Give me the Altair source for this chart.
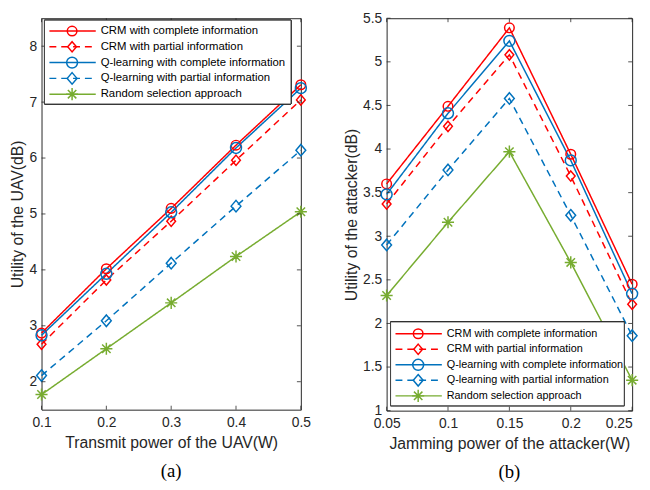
import altair as alt
import pandas as pd

# ---------------- data ----------------
series = ["CRM with complete information", "CRM with partial information",
          "Q-learning with complete information", "Q-learning with partial information",
          "Random selection approach"]
colors = ["#FF0000", "#FF0000", "#0072BD", "#0072BD", "#77AC30"]
dashes = [[1, 0], [7, 5], [1, 0], [7, 5], [1, 0]]
diamond = "M0,-1L0.85,0L0,1L-0.85,0Z"
asterisk = "M0,-1L0,1M-1,0L1,0M-0.7,-0.7L0.7,0.7M-0.7,0.7L0.7,-0.7"
shapes = ["circle", diamond, "circle", diamond, asterisk]
sizes = [95, 150, 95, 150, 95]

power_a = [0.1, 0.2, 0.3, 0.4, 0.5]
a_crm_full = [2.87, 4.02, 5.10, 6.23, 7.31]
a_crm_part = [2.67, 3.82, 4.87, 5.96, 7.04]
a_q_full = [2.83, 3.93, 5.03, 6.18, 7.25]
a_q_part = [2.11, 3.09, 4.12, 5.14, 6.14]
a_rand = [1.77, 2.59, 3.41, 4.24, 5.04]

power_b = [0.05, 0.10, 0.15, 0.20, 0.25]
b_crm_full = [3.60, 4.49, 5.39, 3.94, 2.45]
b_crm_part = [3.37, 4.26, 5.08, 3.69, 2.22]
b_q_full = [3.48, 4.41, 5.24, 3.87, 2.34]
b_q_part = [2.90, 3.76, 4.58, 3.24, 1.86]
b_rand = [2.32, 3.16, 3.97, 2.70, 1.35]

xticks_a = [0.1, 0.2, 0.3, 0.4, 0.5]
yticks_a = [2, 3, 4, 5, 6, 7, 8]
xticks_b = [0.05, 0.1, 0.15, 0.2, 0.25]
yticks_b = [1, 1.5, 2, 2.5, 3, 3.5, 4, 4.5, 5, 5.5]


def long_df(xs, cols):
    rows = []
    for name, vals in zip(series, cols):
        for x, v in zip(xs, vals):
            rows.append({"power": x, "value": v, "series": name})
    return pd.DataFrame(rows)


df_a = long_df(power_a, [a_crm_full, a_crm_part, a_q_full, a_q_part, a_rand])
df_b = long_df(power_b, [b_crm_full, b_crm_part, b_q_full, b_q_part, b_rand])
leg_df = pd.DataFrame({"series": series, "idx": list(range(len(series)))})

FRAME = "#262626"
color_enc = alt.Color("series:N", scale=alt.Scale(domain=series, range=colors), legend=None)
dash_enc = alt.StrokeDash("series:N", scale=alt.Scale(domain=series, range=dashes), legend=None)
shape_enc = alt.Shape("series:N", scale=alt.Scale(domain=series, range=shapes), legend=None)
size_enc = alt.Size("series:N", scale=alt.Scale(domain=series, range=sizes), legend=None)


def panel(df, xdom, ydom, xticks, yticks, xfmt, yfmt, xtitle, ytitle, W, H,
          caption, box, leg_y, leg_font, ytp, last_right):
    xsc = alt.Scale(domain=xdom, nice=False, zero=False, padding=0)
    ysc = alt.Scale(domain=ydom, nice=False, zero=False, padding=0)
    xax = dict(values=xticks, format=xfmt, title=xtitle, ticks=False, domain=False,
               grid=False, labelPadding=6, titlePadding=5, labelFlush=False)
    if last_right:
        xax["labelAlign"] = {"condition": {"test": "datum.value > %g" % (xdom[1] * 0.99),
                                           "value": "right"}, "value": "center"}
    xaxis = alt.Axis(**xax)
    X = alt.X("power:Q", scale=xsc, axis=xaxis)
    Y = alt.Y("value:Q", scale=ysc,
              axis=alt.Axis(values=yticks, format=yfmt, title=ytitle, ticks=False,
                            domain=False, grid=False, labelPadding=5, titlePadding=ytp,
                            labelFlush=False))
    Yn = alt.Y("value:Q", scale=ysc, axis=None)

    lines = alt.Chart(df).mark_line(strokeWidth=1.5).encode(
        x=X, y=Y, color=color_enc, strokeDash=dash_enc)
    pts = alt.Chart(df).mark_point(filled=False, strokeWidth=1.5, opacity=1).encode(
        x=X, y=Yn, color=color_enc, shape=shape_enc, size=size_enc)

    xt = pd.DataFrame({"power": xticks})
    yt = pd.DataFrame({"value": yticks})
    tk = dict(color=FRAME, strokeWidth=0.8)
    t_bottom = alt.Chart(xt).mark_rule(**tk).encode(x=X, y=alt.value(H - 4), y2=alt.value(H))
    t_top = alt.Chart(xt).mark_rule(**tk).encode(x=X, y=alt.value(0), y2=alt.value(4))
    t_left = alt.Chart(yt).mark_rule(**tk).encode(y=Yn, x=alt.value(0), x2=alt.value(4))
    t_right = alt.Chart(yt).mark_rule(**tk).encode(y=Yn, x=alt.value(W - 4), x2=alt.value(W))

    bx0, bx1, by0, by1 = box
    legbox = alt.Chart(leg_df).mark_rect(fill="white", stroke=FRAME, strokeWidth=0.8).encode(
        x=alt.value(bx0), x2=alt.value(bx1), y=alt.value(by0), y2=alt.value(by1))
    LY = alt.Y("idx:Q", scale=alt.Scale(domain=[0, 4], range=leg_y, padding=0), axis=None)
    leg_line = alt.Chart(leg_df).mark_rule(strokeWidth=1.5).encode(
        x=alt.value(bx0 + 5), x2=alt.value(bx0 + 52), y=LY, color=color_enc, strokeDash=dash_enc)
    leg_pt = alt.Chart(leg_df).mark_point(filled=False, strokeWidth=1.5, opacity=1).encode(
        x=alt.value(bx0 + 28), y=LY, color=color_enc, shape=shape_enc, size=size_enc)
    leg_txt = alt.Chart(leg_df).mark_text(align="left", baseline="middle", font="Liberation Sans",
                                          fontSize=leg_font, color="#000000").encode(
        x=alt.value(bx0 + 57), y=LY, text="series:N")

    return alt.layer(lines, pts, t_bottom, t_top, t_left, t_right,
                     legbox, leg_line, leg_pt, leg_txt).resolve_scale(y="independent").properties(
        width=W, height=H,
        title=alt.Title(caption, orient="bottom", font="Liberation Serif", fontSize=19,
                        fontWeight="normal", color="#000000", offset=12))


left = panel(df_a, [0.1, 0.5], [1.5, 8.5], xticks_a, yticks_a, ".1f", "d",
             "Transmit power of the UAV(W)", "Utility of the UAV(dB)", 263, 397, "(a)",
             (3, 253, 2, 87), [13, 77], 11.5, 4, False)
right = panel(df_b, [0.05, 0.25], [1, 5.5], xticks_b, yticks_b, ".2~f", ".1~f",
              "Jamming power of the attacker(W)", "Utility of the attacker(dB)", 249, 398, "(b)",
              (4, 241, 308, 393), [320, 383], 11, 3, True)

chart = alt.hconcat(left, right, spacing=32).properties(
    padding={"left": 0, "top": -1, "right": 0, "bottom": -2},
    background="white"
).configure_view(stroke=FRAME, strokeWidth=1).configure_axis(
    labelFont="Liberation Sans", labelFontSize=14, labelColor=FRAME,
    titleFont="Liberation Sans", titleFontSize=16, titleFontWeight="normal", titleColor=FRAME
)

chart.save("out.html", embed_options={"renderer": "svg", "actions": False})
